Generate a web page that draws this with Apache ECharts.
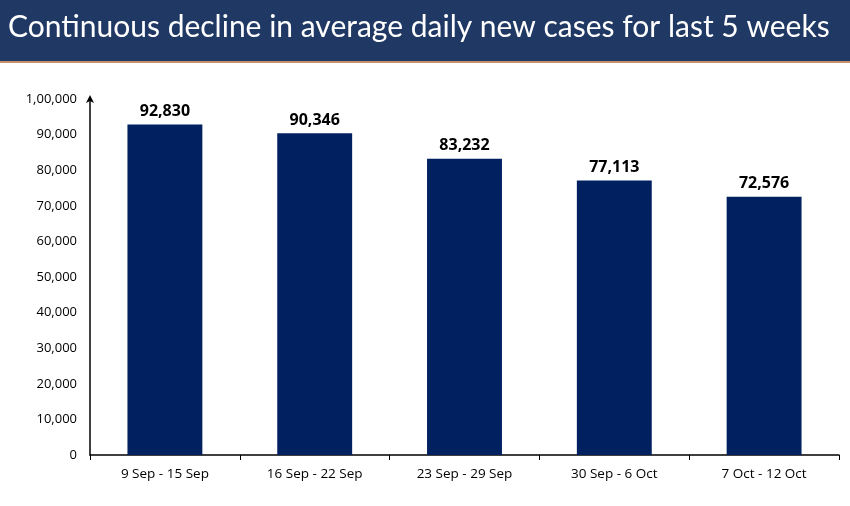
<!DOCTYPE html>
<html><head><meta charset="utf-8">
<script src="https://cdn.jsdelivr.net/npm/echarts@6/dist/echarts.min.js"></script>
<style>html,body{margin:0;padding:0;background:#fff}#c{width:850px;height:506px}</style>
</head><body><div id="c"></div>
<script>
var categories = ['9 Sep - 15 Sep','16 Sep - 22 Sep','23 Sep - 29 Sep','30 Sep - 6 Oct','7 Oct - 12 Oct'];
var values = [92830, 90346, 83232, 77113, 72576];
var titleText = 'Continuous decline in average daily new cases for last 5 weeks';

function indFmt(v){
  var s = String(Math.round(v));
  if (s.length <= 3) return s;
  var last3 = s.slice(-3), rest = s.slice(0,-3);
  rest = rest.replace(/\B(?=(\d{2})+(?!\d))/g, ',');
  return rest + ',' + last3;
}
function usFmt(v){ return String(v).replace(/\B(?=(\d{3})+(?!\d))/g, ','); }

var chart = echarts.init(document.getElementById('c'));
chart.setOption({
  animation:false,
  graphic:[
    {type:'rect', shape:{x:0,y:0,width:850,height:61}, style:{fill:'#1f3864'}},
    {type:'rect', shape:{x:0,y:61,width:850,height:2}, style:{fill:'#c8906a'}},
    {type:'text', left:8, top:12, style:{text:titleText, fill:'#fff', font:'30px Lato'}}
  ],
  grid:{left:90, right:11, top:99, bottom:51},
  xAxis:{type:'category', data:categories,
    axisLine:{lineStyle:{color:'#000',width:1.5}},
    axisTick:{show:true, length:5, lineStyle:{color:'#000'}},
    axisLabel:{color:'#000', fontSize:13.5, fontFamily:'Open Sans', margin:12}},
  yAxis:{type:'value', min:0, max:100000, interval:10000,
    axisLine:{show:true, symbol:['none','arrow'], symbolSize:[6,8], symbolOffset:[0,4], lineStyle:{color:'#000',width:1.5}},
    axisTick:{show:false}, splitLine:{show:false},
    axisLabel:{color:'#000', fontSize:13, fontFamily:'Open Sans', margin:13, formatter:indFmt}},
  series:[{type:'bar', data:values, barWidth:'50%', itemStyle:{color:'#002060'},
    label:{show:true, position:'top', color:'#000', fontWeight:'bold', fontSize:16, fontFamily:'Open Sans', distance:5, formatter:function(p){return usFmt(p.value);}}}]
});
</script></body></html>
